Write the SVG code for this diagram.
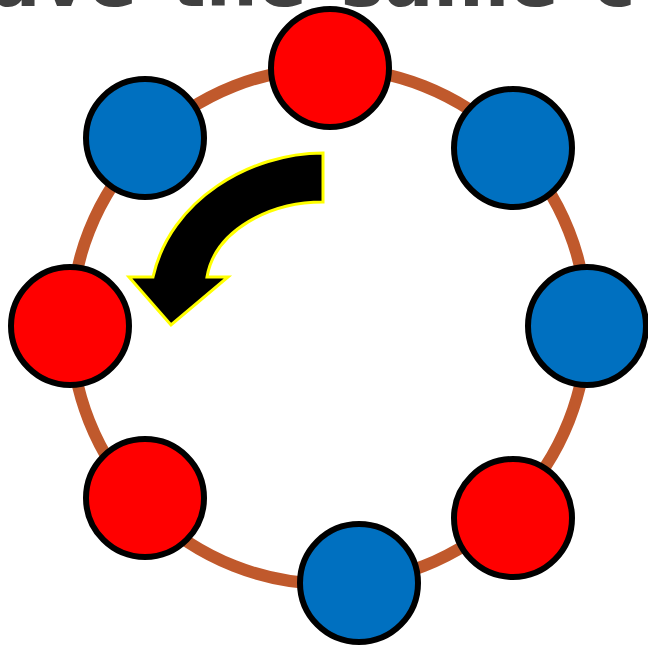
<svg xmlns="http://www.w3.org/2000/svg" width="648" height="645" viewBox="0 0 648 645">
<style>
.title{font-family:"DejaVu Sans","Liberation Sans",sans-serif;font-weight:bold;font-size:73px;fill:#404040;word-spacing:8px}
.node{stroke:#000;stroke-width:6}
.red{fill:#FF0000}
.blue{fill:#0070C0}
.ring{fill:none;stroke:#C0592C;stroke-width:12}
.arrow{fill:#000;stroke:#FFFF00;stroke-width:3;stroke-linejoin:miter}
</style>
<rect width="648" height="645" fill="#fff"/>
<text class="title" x="-61" y="6">have the same c</text>
<g id="connectors">
<circle class="ring" cx="329" cy="326" r="258"/>
</g>
<g id="n-top"><circle class="node red" cx="330" cy="68" r="59"/></g>
<g id="n-topleft"><circle class="node blue" cx="145" cy="138" r="59"/></g>
<g id="n-topright"><circle class="node blue" cx="513" cy="148" r="59"/></g>
<g id="n-left"><circle class="node red" cx="70" cy="326" r="59"/></g>
<g id="n-right"><circle class="node blue" cx="587" cy="326" r="59"/></g>
<g id="n-bottomleft"><circle class="node red" cx="145" cy="498" r="59"/></g>
<g id="n-bottomright"><circle class="node red" cx="513" cy="518" r="59"/></g>
<g id="n-bottom"><circle class="node blue" cx="359" cy="583" r="59"/></g>
<g id="arrow">
<path class="arrow" d="M323,153 L323,202 C270,202 215,230 207,277 L228,277 L171,325 L129,277 L153,277 C170,200 250,153 323,153 Z"/>
</g>
</svg>
